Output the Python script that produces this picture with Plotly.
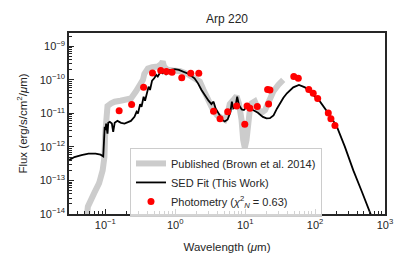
import plotly.graph_objects as go

# Published SED (Brown et al. 2014): wavelength (um), flux (erg/s/cm2/um)
pub_wave = [0.0536, 0.0562, 0.0692, 0.0814, 0.0915, 0.097, 0.0989, 0.1007, 0.1026, 0.1073,
            0.1212, 0.136, 0.164, 0.188, 0.232, 0.273, 0.307, 0.345, 0.361, 0.406,
            0.466, 0.562, 0.631, 0.661, 0.692, 0.778, 0.936, 1.182, 1.485, 1.885,
            2.247, 2.542, 2.791, 3.135, 3.479, 3.957, 4.342, 5.112, 5.613, 6.013,
            6.761, 7.524, 8.136, 8.871, 9.36, 9.87, 10.45, 11.03, 11.80, 12.38,
            13.74, 15.39, 17.14, 19.28, 21.33, 25.24, 29.72, 35.0]
pub_flux = [6.3e-15, 1.66e-14, 4.2e-14, 8.3e-14, 2.0e-13, 5.0e-13, 2.0e-12, 5.0e-12, 1.0e-11, 1.66e-11,
            2.0e-11, 2.24e-11, 2.4e-11, 2.5e-11, 2.8e-11, 4.5e-11, 6.3e-11, 1.0e-10, 1.51e-10, 2.2e-10,
            2.4e-10, 2.5e-10, 3.0e-10, 3.5e-10, 2.5e-10, 2.0e-10, 1.9e-10, 1.82e-10, 1.51e-10, 1.12e-10,
            8.9e-11, 5.0e-11, 3.16e-11, 1.9e-11, 1.26e-11, 8.9e-12, 7.6e-12, 6.5e-12, 1.0e-11, 1.9e-11,
            2.5e-11, 3.3e-11, 2.0e-11, 6.5e-12, 1.62e-12, 9.5e-13, 1.62e-12, 6.5e-12, 1.58e-11, 2.0e-11,
            2.3e-11, 1.32e-11, 1.05e-11, 1.26e-11, 2.0e-11, 4.5e-11, 7.1e-11, 1.0e-10]

# SED fit (this work)
fit_wave = [0.0286, 0.0361, 0.0455, 0.0574, 0.0724, 0.0853, 0.0933, 0.0961, 0.0979, 0.1007,
            0.1026, 0.1073, 0.110, 0.1156, 0.1239, 0.1295, 0.136, 0.149, 0.1676, 0.188,
            0.2114, 0.232, 0.2609, 0.2797, 0.2927, 0.3143, 0.3292, 0.3527, 0.3694, 0.3967,
            0.4153, 0.4352, 0.466, 0.50, 0.5353, 0.562, 0.616, 0.661, 0.709, 0.7416,
            0.778, 0.8724, 0.983, 1.126, 1.324, 1.562, 1.885, 2.115, 2.372, 2.668,
            2.993, 3.29, 3.527, 3.777, 4.247, 4.765, 5.112, 5.613, 6.163, 6.449,
            6.761, 7.248, 7.686, 8.136, 8.929, 9.58, 10.74, 11.51, 13.55, 15.2,
            17.91, 20.15, 22.6, 25.43, 28.56, 31.4, 35.21, 39.52, 48.75, 58.79,
            71.61, 89.28, 117.8, 155.5, 204.3, 266.3, 352.3, 465.7, 601.8, 708]
fit_flux = [3.8e-13, 5.0e-13, 5.75e-13, 6.3e-13, 6.3e-13, 5.9e-13, 5.25e-13, 2.5e-12, 4.0e-12, 3.2e-12,
            5.0e-12, 2.5e-12, 5.25e-12, 5.6e-12, 5.0e-12, 2.8e-12, 5.25e-12, 6.0e-12, 5.25e-12, 5.0e-12,
            5.6e-12, 6.0e-12, 7.9e-12, 1.12e-11, 1.0e-11, 1.9e-11, 1.58e-11, 3.16e-11, 2.4e-11, 4.2e-11,
            6.3e-11, 5.0e-11, 9.5e-11, 1.12e-10, 1.41e-10, 1.26e-10, 1.74e-10, 1.58e-10, 1.86e-10, 1.41e-10,
            1.9e-10, 2.0e-10, 2.1e-10, 2.0e-10, 1.78e-10, 1.51e-10, 1.12e-10, 7.9e-11, 5.0e-11, 3.3e-11,
            2.4e-11, 1.9e-11, 2.24e-11, 1.41e-11, 8.9e-12, 6.3e-12, 5.75e-12, 6.6e-12, 1.12e-11, 2.24e-11,
            1.41e-11, 1.58e-11, 3.16e-11, 1.78e-11, 1.32e-11, 1.26e-11, 1.66e-11, 1.41e-11, 1.2e-11, 1.05e-11,
            7.9e-12, 7.1e-12, 7.2e-12, 8.7e-12, 1.41e-11, 2.0e-11, 2.95e-11, 4.0e-11, 6.0e-11, 7.1e-11,
            6.0e-11, 4.0e-11, 2.24e-11, 1.0e-11, 4.1e-12, 1.02e-12, 2.0e-13, 4.7e-14, 1.05e-14, 5.0e-15]

# Photometry
phot_wave = [0.1575, 0.2375, 0.3526, 0.472, 0.6204, 0.747, 0.8986, 1.238, 1.666, 2.169,
             3.527, 4.37, 5.623, 7.552, 9.87, 10.64, 11.71, 14.91, 21.62, 20.94,
             22.6, 49.6, 57.5, 81.2, 94.0, 108.9, 154.5, 168.4, 192.3]
phot_flux = [1.2e-11, 1.85e-11, 6.0e-11, 1.6e-10, 1.9e-10, 1.78e-10, 1.7e-10, 1.17e-10, 1.58e-10, 1.58e-10,
             1.17e-11, 6.9e-12, 1.13e-11, 1.66e-11, 4.8e-12, 1.66e-11, 1.43e-11, 1.6e-11, 1.9e-11, 5.2e-11,
             5.0e-11, 1.27e-10, 1.12e-10, 5.2e-11, 4.0e-11, 2.8e-11, 1.03e-11, 6.9e-12, 4.4e-12]

x_major = [0.1, 1, 10, 100, 1000]
x_major_text = ["10<sup>\u22121</sup>", "10<sup>0</sup>", "10<sup>1</sup>", "10<sup>2</sup>", "10<sup>3</sup>"]
y_major = [1e-14, 1e-13, 1e-12, 1e-11, 1e-10, 1e-9]
y_major_text = ["10<sup>\u221214</sup>", "10<sup>\u221213</sup>", "10<sup>\u221212</sup>",
                "10<sup>\u221211</sup>", "10<sup>\u221210</sup>", "10<sup>\u22129</sup>"]

x_minor = [m * 10 ** e for e in range(-2, 3) for m in range(2, 10)]
y_minor = [m * 10.0 ** e for e in range(-15, -8) for m in range(2, 10)]

FONT = "Liberation Sans, Arial, sans-serif"
TXT = "#262626"

fig = go.Figure()
fig.add_trace(go.Scatter(x=pub_wave, y=pub_flux, mode="lines",
                         line=dict(color="#cccccc", width=6),
                         name="Published (Brown et al. 2014)"))
fig.add_trace(go.Scatter(x=fit_wave, y=fit_flux, mode="lines",
                         line=dict(color="black", width=1.8),
                         name="SED Fit (This Work)"))
fig.add_trace(go.Scatter(x=phot_wave, y=phot_flux, mode="markers",
                         marker=dict(color="red", size=7),
                         name="Photometry (<i>\u03c7</i><sup>2</sup><sub><i>N</i></sub> = 0.63)"))

fig.update_layout(
    width=407, height=271,
    margin=dict(l=69, r=22, t=33, b=57),
    paper_bgcolor="white", plot_bgcolor="white",
    font=dict(family=FONT, size=11, color=TXT),
    title=dict(text="Arp 220", x=0.5, xref="paper", xanchor="center",
               y=1 - 19 / 271, yref="container", yanchor="middle",
               font=dict(size=12, color=TXT)),
    showlegend=True,
    legend=dict(x=0.193, y=0.365, xanchor="left", yanchor="top",
                bgcolor="rgba(255,255,255,0.8)", bordercolor="#cccccc", borderwidth=1,
                font=dict(size=11, color=TXT), tracegroupgap=0, itemsizing="trace",
                itemwidth=30),
)
fig.update_xaxes(type="log", range=[-1.52, 3], automargin=False,
                 tickmode="array", tickvals=x_major, ticktext=x_major_text,
                 ticks="inside", ticklen=5, tickwidth=1, tickcolor=TXT,
                 showline=True, linecolor=TXT, linewidth=1.5, mirror=True,
                 showgrid=False, zeroline=False,
                 minor=dict(tickmode="array", tickvals=x_minor, ticks="inside",
                            ticklen=3, tickwidth=1, tickcolor=TXT, showgrid=False),
                 title=dict(text="Wavelength (<i>\u03bc</i>m)", standoff=13,
                            font=dict(size=11.5, color=TXT)),
                 tickfont=dict(size=11, color=TXT))
fig.update_yaxes(type="log", range=[-14, -8.6], automargin=False,
                 tickmode="array", tickvals=y_major, ticktext=y_major_text,
                 ticks="inside", ticklen=5, tickwidth=1, tickcolor=TXT,
                 showline=True, linecolor=TXT, linewidth=1.5, mirror=True,
                 showgrid=False, zeroline=False,
                 minor=dict(tickmode="array", tickvals=y_minor, ticks="inside",
                            ticklen=3, tickwidth=1, tickcolor=TXT, showgrid=False),
                 title=dict(text="Flux (erg/s/cm<sup>2</sup>/<i>\u03bc</i>m)", standoff=10,
                            font=dict(size=11.5, color=TXT)),
                 tickfont=dict(size=11, color=TXT))

fig.write_html("out.html", config={"displayModeBar": False},
               post_script="document.body.style.margin='0';")
